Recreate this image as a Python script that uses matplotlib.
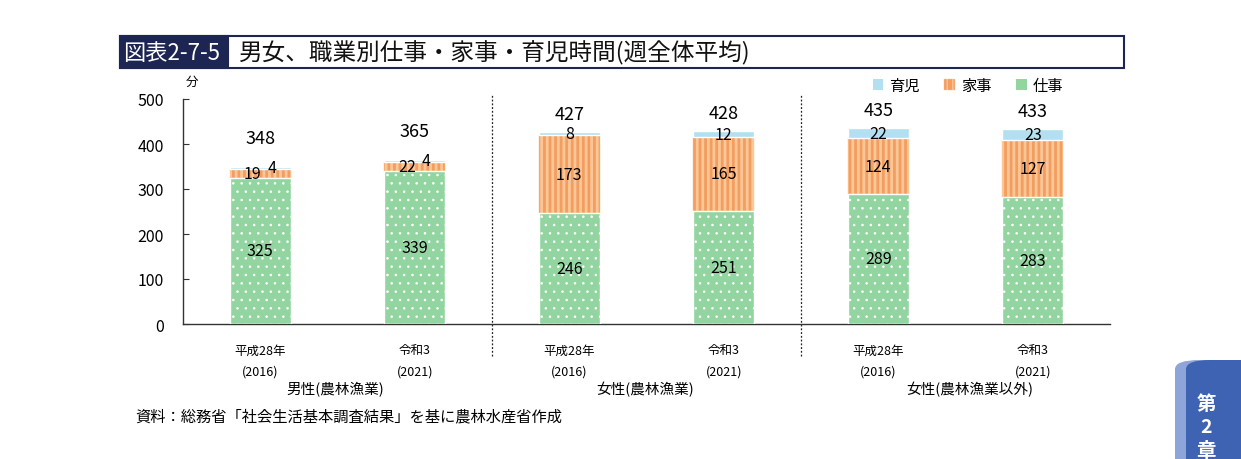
import matplotlib
matplotlib.use("Agg")
import matplotlib.pyplot as plt
import numpy as np
from matplotlib.patches import Patch, Rectangle, FancyBboxPatch

plt.rcParams["font.family"] = ["Noto Sans CJK JP", "DejaVu Sans"]

# data (minutes per day)
years = ["平成28年\n(2016)", "令和3\n(2021)"] * 3
groups = ["男性(農林漁業)", "女性(農林漁業)", "女性(農林漁業以外)"]
work = [325, 339, 246, 251, 289, 283]
house = [19, 22, 173, 165, 124, 127]
child = [4, 4, 8, 12, 22, 23]
totals = [348, 365, 427, 428, 435, 433]

green = "#93d5a1"
orange = "#f39d60"
stripe = "#fcc796"
blue = "#b3e0f0"
navy = "#1d2552"

fig = plt.figure(figsize=(12.41, 4.6), dpi=100)
ax = fig.add_axes([183 / 1241, 1 - 325 / 460, (1110 - 183) / 1241, 225 / 460])

x = np.arange(len(work))
w = 0.395
work = np.array(work)
house = np.array(house)
child = np.array(child)

with plt.rc_context({"hatch.linewidth": 2.0}):
    b_house = ax.bar(x, house, w, bottom=work, color=orange, edgecolor=stripe,
                     hatch="|||", linewidth=0.3, zorder=2)
with plt.rc_context({"hatch.linewidth": 0.6}):
    b_work = ax.bar(x, work, w, color=green, edgecolor="white", hatch="..",
                    linewidth=1, zorder=3)
b_child = ax.bar(x, child, w, bottom=work + house, color=blue,
                 edgecolor="white", linewidth=1, zorder=3)
for p in b_house:
    if hasattr(p, "set_hatch_linewidth"):
        p.set_hatch_linewidth(2.0)
for p in b_work:
    if hasattr(p, "set_hatch_linewidth"):
        p.set_hatch_linewidth(0.6)

# labels inside segments
for i in range(len(x)):
    ax.text(x[i], work[i] / 2, str(work[i]), ha="center", va="center",
            fontsize=11.5, zorder=5)
    if i < 2:
        ax.text(x[i] - 0.05, work[i] + house[i] / 2 + 1, str(house[i]),
                ha="center", va="center", fontsize=11.5, zorder=5)
        ax.text(x[i] + 0.075, totals[i] - 1, str(child[i]), ha="center",
                va="center", fontsize=11.5, zorder=5)
        off = 21
    else:
        ax.text(x[i], work[i] + house[i] / 2, str(house[i]), ha="center",
                va="center", fontsize=11.5, zorder=5)
        ax.text(x[i], work[i] + house[i] + child[i] / 2, str(child[i]),
                ha="center", va="center", fontsize=11.5, zorder=5)
        off = 13
    ax.annotate(str(totals[i]), (x[i], totals[i]), xytext=(0, off),
                textcoords="offset points", ha="center", va="center",
                fontsize=13, zorder=5)

ax.set_xlim(-0.5, len(x) - 0.5)
ax.set_ylim(0, 500)
ax.set_yticks(range(0, 501, 100))
ax.tick_params(axis="y", direction="in", length=4, pad=14, labelsize=11.5,
               color="#333333")
ax.set_xticks(x)
ax.set_xticklabels(years, fontsize=9, linespacing=1.8)
ax.tick_params(axis="x", length=0, pad=14)
for s in ["top", "right"]:
    ax.spines[s].set_visible(False)
for s in ["left", "bottom"]:
    ax.spines[s].set_color("#333333")
    ax.spines[s].set_linewidth(1)

for gx in [1.5, 3.5]:
    ax.axvline(gx, ymin=-0.142, ymax=1.022, color="#222222", lw=0.9,
               ls=(0, (1.5, 1.5)), clip_on=False, zorder=1)

group_x = [0.483, 2.49, 4.59]
for gx, g in zip(group_x, groups):
    ax.text(gx, -0.289, g, transform=ax.get_xaxis_transform(), ha="center",
            va="center", fontsize=10.5)

ax.text(-0.48, 1.08, "分", transform=ax.get_xaxis_transform(), ha="left",
        va="center", fontsize=9)

with plt.rc_context({"hatch.linewidth": 2.0}):
    handles = [Patch(facecolor=blue, edgecolor="none"),
               Patch(facecolor=orange, edgecolor=stripe, hatch="|||", lw=0.3),
               Patch(facecolor=green, edgecolor="none")]
fig.legend(handles, ["育児", "家事", "仕事"], ncol=3, frameon=False,
           loc="center right", bbox_to_anchor=(0.868, 1 - 86 / 460),
           fontsize=11, handlelength=0.7, handleheight=0.7,
           handletextpad=0.4, columnspacing=1.6)

# title box
fig.patches.append(Rectangle((120 / 1241, 1 - 69 / 460), 1004 / 1241,
                             32 / 460, transform=fig.transFigure,
                             facecolor="white", edgecolor=navy, lw=1.5))
fig.patches.append(Rectangle((120 / 1241, 1 - 69 / 460), 108 / 1241,
                             32 / 460, transform=fig.transFigure,
                             facecolor=navy, edgecolor=navy, lw=1.5))
fig.text(123 / 1241, 1 - 53 / 460, "図表2-7-5", color="white", fontsize=16,
         ha="left", va="center")
fig.text(239 / 1241, 1 - 53 / 460, "男女、職業別仕事・家事・育児時間(週全体平均)",
         fontsize=17, ha="left", va="center", color="#111111")

fig.text(135 / 1241, 1 - 417 / 460,
         "資料：総務省「社会生活基本調査結果」を基に農林水産省作成",
         fontsize=11, ha="left", va="center")

# chapter tab
fig.patches.append(FancyBboxPatch((1175 / 1241, -0.05), 0.1, 0.05 + 99 / 460,
                                  boxstyle="round,pad=0,rounding_size=0.02",
                                  transform=fig.transFigure,
                                  facecolor="#8fa5d9", edgecolor="none"))
fig.patches.append(FancyBboxPatch((1186 / 1241, -0.05), 0.1, 0.05 + 99 / 460,
                                  boxstyle="round,pad=0,rounding_size=0.02",
                                  transform=fig.transFigure,
                                  facecolor="#3d63b2", edgecolor="none"))
for t, yy in zip(["第", "2", "章"], [405, 428, 452]):
    fig.text(1206 / 1241, 1 - yy / 460, t, color="white", fontsize=14,
             fontweight="bold", ha="center", va="center")

fig.savefig("out.png", dpi=100)
